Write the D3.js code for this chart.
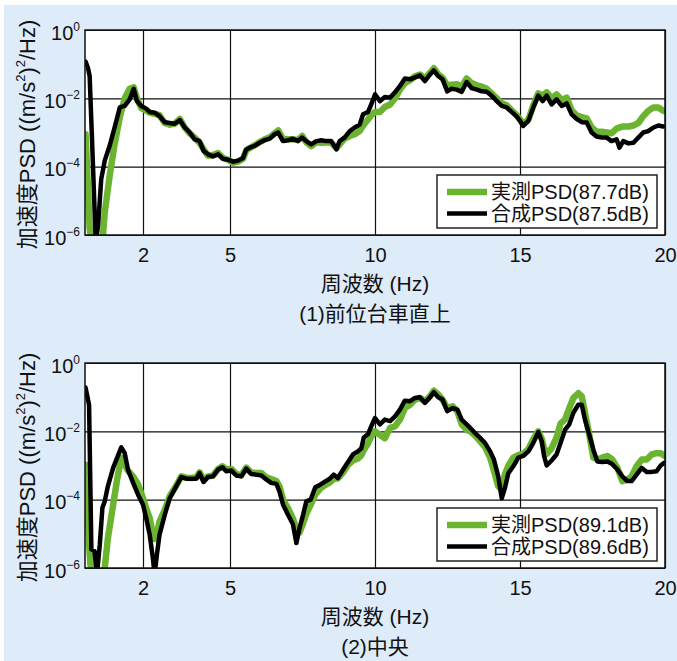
<!DOCTYPE html>
<html><head><meta charset="utf-8">
<script src="https://cdn.jsdelivr.net/npm/d3@7"></script>
<style>
html,body{margin:0;padding:0;background:#fff;}
svg{display:block;}
text{font-family:"Liberation Sans","Noto Sans CJK JP",sans-serif;fill:#111;}
</style></head><body>
<svg id="chart" width="677" height="661"></svg>
<script>
// ---- data: frequency (Hz) and acceleration PSD ((m/s^2)^2/Hz) ----
const freqTop = [0.02,0.10,0.16,0.24,0.37,0.45,0.56,0.62,0.68,0.85,
  1.02,1.20,1.37,1.54,1.68,1.79,1.94,2.11,2.23,2.40,
  2.57,2.75,2.92,3.09,3.27,3.44,3.61,3.78,3.95,4.09,
  4.24,4.41,4.59,4.76,4.93,5.10,5.28,5.45,5.56,5.68,
  5.85,6.02,6.20,6.37,6.54,6.66,6.83,7.00,7.17,7.34,
  7.49,7.63,7.80,7.98,8.15,8.32,8.49,8.67,8.78,8.95,
  9.13,9.30,9.47,9.59,9.76,9.87,10.00,10.17,10.34,10.52,
  10.69,10.86,11.03,11.21,11.38,11.55,11.72,11.90,12.03,12.18,
  12.33,12.49,12.64,12.82,12.99,13.16,13.33,13.51,13.68,13.85,
  14.02,14.20,14.37,14.54,14.71,14.89,15.00,15.11,15.29,15.46,
  15.63,15.78,15.92,16.09,16.26,16.44,16.61,16.78,16.95,17.13,
  17.30,17.47,17.64,17.82,17.99,18.16,18.33,18.43,18.56,18.74,
  18.91,19.08,19.25,19.42,19.60,19.77,19.94];

const measuredTop = [8.9e-4,2.5e-5,1.6e-6,5e-7,5e-7,5e-7,5e-7,1.0e-6,4.5e-6,5.4e-5,
  4.5e-4,2.8e-3,1.0e-2,1.9e-2,2.1e-2,1.0e-2,5.2e-3,4.4e-3,3.8e-3,3.5e-3,
  3.2e-3,1.9e-3,1.7e-3,1.8e-3,2.5e-3,1.4e-3,9.5e-4,7.1e-4,5.0e-4,3.2e-4,
  2.1e-4,2.2e-4,2.5e-4,1.8e-4,1.6e-4,1.3e-4,1.4e-4,1.7e-4,3.0e-4,3.5e-4,
  4.2e-4,5.2e-4,6.3e-4,7.2e-4,9.5e-4,1.15e-3,6.3e-4,6.3e-4,6.3e-4,6.0e-4,
  7.9e-4,5.2e-4,4.0e-4,5.2e-4,5.0e-4,5.2e-4,5.0e-4,3.5e-4,4.5e-4,6.6e-4,
  7.9e-4,8.9e-4,1.1e-3,1.6e-3,2.4e-3,3.2e-3,4.0e-3,4.0e-3,5.6e-3,6.6e-3,
  1.0e-2,1.8e-2,2.8e-2,3.4e-2,4.4e-2,5.0e-2,3.8e-2,5.6e-2,7.6e-2,5.0e-2,
  4.0e-2,2.4e-2,2.5e-2,2.6e-2,2.2e-2,3.8e-2,2.8e-2,2.4e-2,2.2e-2,1.9e-2,
  1.4e-2,1.0e-2,7.1e-3,6.3e-3,4.5e-3,3.2e-3,2.4e-3,1.8e-3,2.4e-3,6.3e-3,
  1.4e-2,1.2e-2,1.5e-2,1.0e-2,1.3e-2,8.9e-3,1.05e-2,4.5e-3,3.2e-3,2.8e-3,
  2.6e-3,1.4e-3,1.05e-3,1.05e-3,1.0e-3,9.5e-4,1.3e-3,1.4e-3,1.5e-3,1.5e-3,
  1.6e-3,1.9e-3,3.0e-3,4.3e-3,5.4e-3,5.4e-3,4.3e-3];

const synthTop = [0.12,0.079,0.045,7.1e-4,6.3e-7,1.8e-6,4.4e-5,7.9e-5,1.5e-4,4.1e-4,
  1.4e-3,5.4e-3,6.0e-3,9.3e-3,1.9e-2,8.3e-3,6.0e-3,5.0e-3,4.0e-3,3.8e-3,
  3.0e-3,2.0e-3,1.9e-3,1.8e-3,2.3e-3,1.4e-3,1.0e-3,6.3e-4,5.6e-4,2.9e-4,
  2.3e-4,2.0e-4,2.3e-4,1.7e-4,1.6e-4,1.4e-4,1.5e-4,1.8e-4,3.2e-4,3.6e-4,
  4.1e-4,5.0e-4,6.0e-4,6.6e-4,8.9e-4,1.0e-3,5.6e-4,5.9e-4,6.6e-4,5.6e-4,
  7.1e-4,5.6e-4,4.5e-4,5.6e-4,5.9e-4,5.6e-4,5.6e-4,3.2e-4,5.6e-4,7.1e-4,
  1.1e-3,1.4e-3,1.7e-3,3.4e-3,4.0e-3,6.6e-3,1.3e-2,8.3e-3,1.1e-2,1.05e-2,
  1.5e-2,2.3e-2,3.8e-2,3.6e-2,4.1e-2,4.7e-2,3.2e-2,5.0e-2,6.6e-2,4.5e-2,
  3.6e-2,1.6e-2,1.9e-2,1.8e-2,1.55e-2,3.0e-2,2.0e-2,1.8e-2,1.6e-2,1.55e-2,
  1.2e-2,8.3e-3,6.0e-3,5.4e-3,4.0e-3,2.9e-3,2.2e-3,1.55e-3,2.2e-3,5.4e-3,
  1.2e-2,8.3e-3,1.2e-2,6.6e-3,9.3e-3,6.0e-3,7.1e-3,3.4e-3,2.5e-3,2.0e-3,
  1.95e-3,1.0e-3,7.6e-4,7.1e-4,7.1e-4,5.6e-4,6.3e-4,3.6e-4,5.6e-4,4.8e-4,
  5.0e-4,7.1e-4,1.0e-3,1.1e-3,1.4e-3,1.6e-3,1.5e-3];

const freqBottom = [0.02,0.14,0.22,0.33,0.41,0.51,0.60,0.68,0.79,0.97,
  1.11,1.25,1.37,1.48,1.66,1.83,2.00,2.11,2.23,2.34,
  2.40,2.48,2.57,2.75,2.92,3.15,3.32,3.49,3.66,3.84,
  3.95,4.09,4.24,4.41,4.59,4.74,4.87,5.05,5.22,5.39,
  5.56,5.73,5.91,6.08,6.25,6.42,6.60,6.71,6.83,7.00,
  7.17,7.29,7.40,7.52,7.63,7.78,7.94,8.11,8.26,8.44,
  8.58,8.72,8.90,9.07,9.24,9.41,9.53,9.61,9.76,9.87,
  10.00,10.17,10.34,10.52,10.69,10.86,11.03,11.21,11.38,11.55,
  11.72,11.90,12.03,12.18,12.33,12.49,12.68,12.84,12.99,13.16,
  13.28,13.45,13.62,13.79,13.97,14.10,14.25,14.37,14.48,14.60,
  14.77,14.94,15.11,15.29,15.46,15.63,15.75,15.83,15.92,16.09,
  16.26,16.40,16.55,16.70,16.84,17.01,17.13,17.24,17.39,17.53,
  17.67,17.84,18.01,18.18,18.36,18.53,18.70,18.85,19.02,19.20,
  19.37,19.54,19.71,19.85,19.97];

const measuredBottom = [1.05e-3,5e-6,5e-7,5e-7,5e-7,5e-7,5e-7,1.0e-6,7.6e-6,7.1e-5,
  4.0e-4,1.7e-3,1.05e-3,7.1e-4,4.8e-4,2.8e-4,1.1e-4,5.6e-5,2.9e-5,1.0e-5,
  7.1e-6,1.0e-5,2.3e-5,5.0e-5,1.26e-4,2.6e-4,4.8e-4,4.4e-4,4.3e-4,4.5e-4,
  6.3e-4,3.8e-4,4.8e-4,5.0e-4,7.9e-4,9.5e-4,7.6e-4,7.9e-4,5.6e-4,5.2e-4,
  8.7e-4,6.3e-4,6.0e-4,6.0e-4,4.5e-4,4.0e-4,3.5e-4,2.4e-4,1.0e-4,5.6e-5,
  2.8e-5,1.4e-5,1.1e-5,2.0e-5,3.8e-5,7.1e-5,1.4e-4,2.1e-4,2.6e-4,3.2e-4,
  4.0e-4,4.2e-4,6.3e-4,1.05e-3,1.4e-3,1.6e-3,2.0e-3,2.8e-3,4.5e-3,7.1e-3,
  1.0e-2,7.9e-3,6.3e-3,1.26e-2,1.4e-2,2.2e-2,4.8e-2,6.0e-2,8.5e-2,9.5e-2,
  7.6e-2,0.107,0.155,0.12,8.5e-2,4.8e-2,5.4e-2,3.8e-2,1.6e-2,1.1e-2,
  1.0e-2,7.6e-3,5.2e-3,3.5e-3,1.7e-3,7.1e-4,2.5e-4,2.0e-4,5.6e-4,1.0e-3,
  1.7e-3,2.0e-3,2.2e-3,3.0e-3,6.0e-3,1.0e-2,6.0e-3,3.2e-3,2.2e-3,3.2e-3,
  6.5e-3,1.7e-2,2.2e-2,4.8e-2,9.5e-2,0.13,0.105,3.5e-2,7.9e-3,1.7e-3,
  1.5e-3,1.7e-3,1.9e-3,1.5e-3,8.5e-4,3.5e-4,3.9e-4,4.8e-4,9.5e-4,1.5e-3,
  1.5e-3,2.1e-3,2.3e-3,2.3e-3,1.95e-3];

const synthBottom = [0.19,6.0e-2,3.5e-6,3.1e-6,6.3e-7,4.8e-6,5.8e-5,8.9e-5,2.5e-4,8.5e-4,
  1.7e-3,3.4e-3,2.3e-3,7.6e-4,3.1e-4,1.4e-4,7.1e-5,2.9e-5,9.5e-6,1.95e-6,
  6.3e-7,2.5e-6,9.5e-6,3.6e-5,1.1e-4,2.5e-4,4.6e-4,4.1e-4,4.1e-4,4.1e-4,
  6.0e-4,3.3e-4,4.6e-4,4.8e-4,7.6e-4,8.9e-4,6.8e-4,7.1e-4,5.1e-4,4.8e-4,
  8.1e-4,5.6e-4,5.4e-4,5.1e-4,3.9e-4,3.1e-4,2.9e-4,1.7e-4,7.1e-5,3.6e-5,
  1.9e-5,5.4e-6,1.5e-5,3.6e-5,8.9e-5,1.0e-4,2.3e-4,2.75e-4,3.3e-4,4.1e-4,
  5.4e-4,4.3e-4,7.6e-4,1.26e-3,2.1e-3,2.6e-3,3.2e-3,6.5e-3,8.3e-3,1.4e-2,
  2.45e-2,1.6e-2,2.2e-2,2.0e-2,2.75e-2,4.3e-2,7.9e-2,7.6e-2,9.5e-2,0.10,
  6.8e-2,0.10,0.14,0.10,8.5e-2,3.9e-2,4.8e-2,4.3e-2,2.2e-2,1.6e-2,
  1.26e-2,8.9e-3,6.5e-3,4.6e-3,2.6e-3,1.5e-3,4.8e-4,1.1e-4,2.2e-4,6.0e-4,
  9.5e-4,1.7e-3,1.9e-3,2.6e-3,4.6e-3,9.5e-3,5.1e-3,1.9e-3,1.0e-3,1.4e-3,
  2.1e-3,4.6e-3,1.1e-2,1.6e-2,3.5e-2,6.0e-2,6.0e-2,2.2e-2,7.9e-3,2.9e-3,
  1.3e-3,1.26e-3,1.3e-3,1.1e-3,7.6e-4,4.8e-4,3.5e-4,3.5e-4,5.4e-4,8.5e-4,
  6.5e-4,6.5e-4,6.8e-4,1.0e-3,1.2e-3];

const xTicks = [2, 5, 10, 15, 20];
const yTicks = [1, 1e-2, 1e-4, 1e-6];
const yTickExponents = ["0", "\u22122", "\u22124", "\u22126"];
const legendTop = ["実測PSD(87.7dB)", "合成PSD(87.5dB)"];
const legendBottom = ["実測PSD(89.1dB)", "合成PSD(89.6dB)"];
const captionTop = "(1)前位台車直上";
const captionBottom = "(2)中央";
const xTitle = "周波数 (Hz)";

// ---- drawing ----
const GREEN = "#6ab42f";
const svg = d3.select("#chart");
svg.append("rect").attr("x", 4).attr("y", 5).attr("width", 673).attr("height", 656).attr("fill", "#deebf8");

const x = d3.scaleLinear().domain([0, 20]).range([85, 665]);

const panels = [
  {top: 30, bottom: 235, freq: freqTop, measured: measuredTop, synth: synthTop, legend: legendTop, caption: captionTop},
  {top: 363, bottom: 568, freq: freqBottom, measured: measuredBottom, synth: synthBottom, legend: legendBottom, caption: captionBottom}
];

panels.forEach((p, i) => {
  const y = d3.scaleLog().domain([1e-6, 1]).range([p.bottom, p.top]);
  const g = svg.append("g");
  const w = x(20) - x(0), h = p.bottom - p.top;

  g.append("rect").attr("x", x(0)).attr("y", p.top).attr("width", w).attr("height", h).attr("fill", "#fff");

  // vertical grid + x tick labels
  const gx = g.append("g").attr("transform", `translate(0,${p.bottom})`)
    .call(d3.axisBottom(x).tickValues(xTicks).tickSize(-h).tickPadding(13).tickFormat(d3.format("d")));
  gx.select(".domain").remove();
  gx.selectAll(".tick line").attr("stroke", "#111").attr("stroke-width", 1.2);
  gx.selectAll(".tick text").attr("font-size", 20).attr("fill", "#111")
    .style("font-family", '"Liberation Sans", sans-serif');

  // horizontal grid + y tick labels (10^n)
  const gy = g.append("g").attr("transform", `translate(${x(0)},0)`)
    .call(d3.axisLeft(y).tickValues(yTicks).tickSize(-w).tickPadding(5).tickFormat(() => ""));
  gy.select(".domain").remove();
  gy.selectAll(".tick line").attr("stroke", "#111").attr("stroke-width", 1.2);
  gy.selectAll(".tick text").each(function(d) {
    const t = d3.select(this).attr("dy", "0.45em").attr("font-size", 20).attr("fill", "#111")
      .style("font-family", '"Liberation Sans", sans-serif');
    t.append("tspan").text("10");
    t.append("tspan").attr("dy", -9).attr("font-size", 12).text(yTickExponents[yTicks.indexOf(d)]);
  });

  // curves
  const clipId = "clip" + i;
  svg.append("clipPath").attr("id", clipId).append("rect")
    .attr("x", x(0)).attr("y", p.top).attr("width", w).attr("height", h);
  const line = d3.line().x(d => x(d[0])).y(d => y(d[1]));
  const measuredPts = p.freq.map((f, k) => [f, p.measured[k]]);
  const synthPts = p.freq.map((f, k) => [f, p.synth[k]]);
  const curves = g.append("g").attr("clip-path", `url(#${clipId})`);
  curves.append("path").attr("d", line(measuredPts)).attr("fill", "none")
    .attr("stroke", GREEN).attr("stroke-width", 6.5).attr("stroke-linejoin", "round").attr("stroke-linecap", "round");
  curves.append("path").attr("d", line(synthPts)).attr("fill", "none")
    .attr("stroke", "#000").attr("stroke-width", 4.5).attr("stroke-linejoin", "round").attr("stroke-linecap", "round");

  // frame
  g.append("rect").attr("x", x(0)).attr("y", p.top).attr("width", w).attr("height", h)
    .attr("fill", "none").attr("stroke", "#111").attr("stroke-width", 1.5);

  // legend
  const lg = g.append("g");
  lg.append("rect").attr("x", 437).attr("y", p.bottom - 60).attr("width", 220).attr("height", 53)
    .attr("fill", "#fff").attr("stroke", "#222").attr("stroke-width", 1.5);
  const rows = [{c: GREEN, sw: 6.5}, {c: "#000", sw: 4.5}];
  rows.forEach((r, k) => {
    const cy = p.bottom - 43 + k * 21.5;
    lg.append("line").attr("x1", 447).attr("x2", 487).attr("y1", cy).attr("y2", cy)
      .attr("stroke", r.c).attr("stroke-width", r.sw);
    lg.append("text").attr("x", 491).attr("y", cy + 7).attr("font-size", 20).text(p.legend[k]);
  });

  // y-axis title
  const yt = g.append("text").attr("transform", `translate(27,${(p.top + p.bottom) / 2 + 2}) rotate(-90)`)
    .attr("text-anchor", "middle").attr("dominant-baseline", "central").attr("font-size", 22);
  yt.append("tspan").text("加速度PSD ((m/s");
  yt.append("tspan").attr("dy", -7).attr("font-size", 13).text("2");
  yt.append("tspan").attr("dy", 7).text(")");
  yt.append("tspan").attr("dy", -7).attr("font-size", 13).text("2");
  yt.append("tspan").attr("dy", 7).text("/Hz)");

  // x-axis title and caption
  g.append("text").attr("x", (x(0) + x(20)) / 2).attr("y", p.bottom + 56)
    .attr("text-anchor", "middle").attr("font-size", 21).text(xTitle);
  g.append("text").attr("x", (x(0) + x(20)) / 2).attr("y", p.bottom + 86)
    .attr("text-anchor", "middle").attr("font-size", 21).text(p.caption);
});
</script>
</body></html>
